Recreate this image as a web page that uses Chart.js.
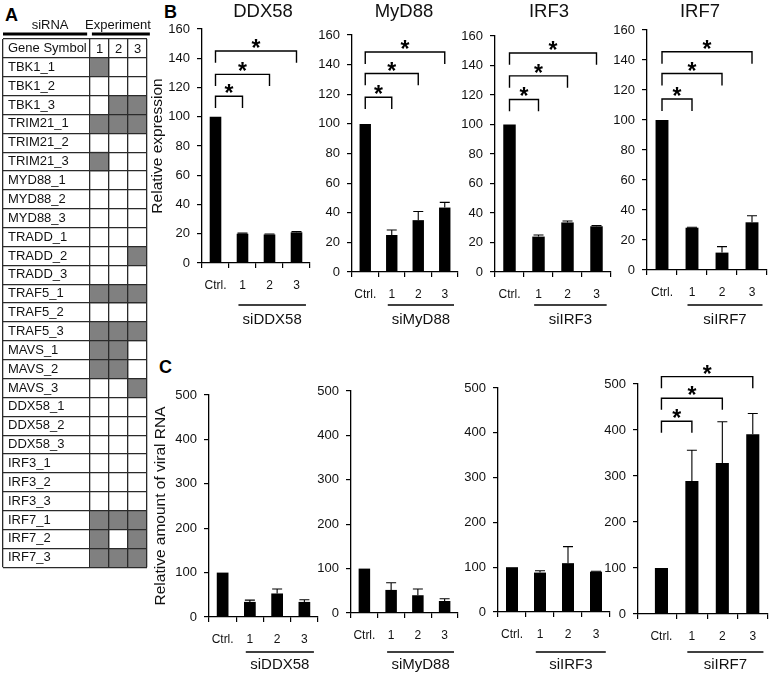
<!DOCTYPE html>
<html>
<head>
<meta charset="utf-8">
<script src="https://cdn.jsdelivr.net/npm/chart.js@4.4.1/dist/chart.umd.min.js"></script>
<style>
  html, body { margin: 0; padding: 0; background: #fff; }
  #fig { position: relative; width: 778px; height: 676px; overflow: hidden; font-family: 'Liberation Sans', Arial, sans-serif; }
  .letter { position: absolute; font-weight: bold; font-size: 18px; line-height: 1; color: #000; }
</style>
</head>
<body>
<div id="fig">
  <div class="letter" style="left:5px;top:6px">A</div>
  <div class="letter" style="left:164px;top:3px">B</div>
  <div class="letter" style="left:159px;top:358px">C</div>
</div>
<script>
// ---- data: panel A (siRNA table) ----
const genes = ['TBK1_1','TBK1_2','TBK1_3','TRIM21_1','TRIM21_2','TRIM21_3','MYD88_1','MYD88_2','MYD88_3',
  'TRADD_1','TRADD_2','TRADD_3','TRAF5_1','TRAF5_2','TRAF5_3','MAVS_1','MAVS_2','MAVS_3',
  'DDX58_1','DDX58_2','DDX58_3','IRF3_1','IRF3_2','IRF3_3','IRF7_1','IRF7_2','IRF7_3'];
const exp1 = [1,0,0,1,0,1,0,0,0,0,0,0,1,0,1,1,1,0,0,0,0,0,0,0,1,1,1];
const exp2 = [0,0,1,1,0,0,0,0,0,0,0,0,1,0,1,1,1,0,0,0,0,0,0,0,1,0,1];
const exp3 = [0,0,1,1,0,0,0,0,0,0,1,0,1,0,1,0,0,1,0,0,0,0,0,0,1,1,1];
const expLabels = ['1', '2', '3'];
const headLabels = ['siRNA', 'Experiment'];

// ---- data: panels B and C ----
const groups = ['Ctrl.', '1', '2', '3'];

const exprDDX58 = [100, 20, 19.5, 21];
const exprDDX58Err = [0, 0.4, 0.3, 0.5];
const exprMyD88 = [100, 25, 35, 43.5];
const exprMyD88Err = [0, 3.4, 5.8, 3.5];
const exprIRF3 = [100, 24, 33.6, 31];
const exprIRF3Err = [0, 1.1, 1, 0.5];
const exprIRF7 = [100, 28.2, 11.6, 31.8];
const exprIRF7Err = [0, 0.3, 4, 4.4];

const viralDDX58 = [100, 34, 53, 34];
const viralDDX58Err = [0, 4, 10, 5];
const viralMyD88 = [100, 52, 40, 27];
const viralMyD88Err = [0, 16, 14, 5];
const viralIRF3 = [100, 88, 109, 90];
const viralIRF3Err = [0, 4, 37, 1];
const viralIRF7 = [100, 289, 328, 391];
const viralIRF7Err = [0, 67, 90, 45];

// significance bracket heights (Ctrl vs 1, 2, 3)
const sigExprDDX58 = [114, 129, 145];
const sigExprMyD88 = [118, 134, 148.5];
const sigExprIRF3 = [117, 133, 148.5];
const sigExprIRF7 = [114, 131, 145.5];
const sigViralIRF7 = [419, 469, 516];

const FONT = "'Liberation Sans', Arial, sans-serif";
Chart.defaults.font.family = FONT;
Chart.defaults.color = '#111';

const fig = document.getElementById('fig');

function addCanvas(l, t, w, h) {
  const c = document.createElement('canvas');
  c.width = w; c.height = h;
  c.style.cssText = `position:absolute;left:${l}px;top:${t}px;`;
  fig.appendChild(c);
  return c;
}

// ---- panel A ----
(function(){
  const cW = 156, cH = 580;
  const GENE_MIN = -87 / 19;
  const canvas = addCanvas(0, 0, cW, cH);
  const cols = [exp1, exp2, exp3];

  // header text + thick rules above the table, "1 2 3" in the first row
  const header = {
    id: 'header',
    afterDraw(chart) {
      const {ctx, chartArea, scales: {x, y}} = chart;
      const ly = chartArea.top - 5;
      ctx.save();
      ctx.strokeStyle = '#000';
      ctx.lineWidth = 3;
      ctx.beginPath();
      ctx.moveTo(x.getPixelForValue(GENE_MIN), ly);
      ctx.lineTo(x.getPixelForValue(-0.15), ly);
      ctx.moveTo(x.getPixelForValue(0.1), ly);
      ctx.lineTo(x.getPixelForValue(3.15), ly);
      ctx.stroke();
      ctx.fillStyle = '#111';
      ctx.textAlign = 'center';
      ctx.textBaseline = 'middle';
      ctx.font = '13px ' + FONT;
      ctx.fillText(headLabels[0], x.getPixelForValue(-2.1), chartArea.top - 14);
      ctx.fillText(headLabels[1], x.getPixelForValue(1.47), chartArea.top - 14);
      ctx.font = '13px ' + FONT;
      expLabels.forEach((t, i) => ctx.fillText(t, x.getPixelForValue(i + 0.5), y.getPixelForValue(0) + 1));
      ctx.restore();
    }
  };

  new Chart(canvas, {
    type: 'bar',
    data: {
      labels: ['Gene Symbol'].concat(genes),
      datasets: cols.map((col, c) => ({
        data: [null].concat(col.map(f => f ? [c, c + 1] : null)),
        backgroundColor: '#808080',
        borderWidth: 0,
        grouped: false,
        barPercentage: 1,
        categoryPercentage: 1
      }))
    },
    options: {
      indexAxis: 'y',
      responsive: false,
      animation: false,
      layout: { padding: { left: 3, right: cW - 147, top: 39, bottom: cH - 569 } },
      plugins: { legend: { display: false }, tooltip: { enabled: false } },
      scales: {
        y: {
          type: 'category',
          afterFit: s => { s.width = 0; },
          grid: { offset: true, color: '#2a2a2a', lineWidth: 1.3, drawTicks: false, z: 1 },
          border: { display: false },
          ticks: { mirror: true, padding: 5, autoSkip: false, font: { size: 13 }, color: '#111' }
        },
        x: {
          type: 'linear', position: 'top', min: GENE_MIN, max: 3,
          afterBuildTicks: s => { s.ticks = [GENE_MIN, 0, 1, 2, 3].map(v => ({ value: v })); },
          afterFit: s => { s.height = 0; },
          grid: { drawTicks: false, lineWidth: 1.3, color: '#2a2a2a', z: 1 },
          border: { display: false },
          ticks: { display: false }
        }
      }
    },
    plugins: [header]
  });
})();

// ---- panels B and C ----
function marks(cfg) {
  return {
    id: 'marks',
    afterDraw(chart) {
      const {ctx, chartArea, scales: {x, y}} = chart;
      ctx.save();
      ctx.strokeStyle = '#000';
      ctx.fillStyle = '#000';

      // error bars (upper half only)
      ctx.lineWidth = 1.1;
      cfg.values.forEach((v, i) => {
        const e = cfg.errors[i];
        if (!e) return;
        const px = x.getPixelForValue(i);
        const y0 = y.getPixelForValue(v), y1 = y.getPixelForValue(v + e);
        ctx.beginPath();
        ctx.moveTo(px, y0); ctx.lineTo(px, y1);
        ctx.moveTo(px - 5, y1); ctx.lineTo(px + 5, y1);
        ctx.stroke();
      });

      // significance brackets
      ctx.lineWidth = 1.4;
      ctx.font = 'bold 23px ' + FONT;
      ctx.textAlign = 'center';
      ctx.textBaseline = 'alphabetic';
      (cfg.sig || []).forEach((lvl, k) => {
        const xa = x.getPixelForValue(0), xb = x.getPixelForValue(k + 1);
        const yt = y.getPixelForValue(lvl), yl = y.getPixelForValue(lvl - cfg.drop);
        ctx.beginPath();
        ctx.moveTo(xa, yl); ctx.lineTo(xa, yt); ctx.lineTo(xb, yt); ctx.lineTo(xb, yl);
        ctx.stroke();
        ctx.fillText('*', (xa + xb) / 2, yt + 5);
      });

      // siRNA group underline + name
      const g0 = x.getPixelForValue(0.85), g1 = x.getPixelForValue(3.35);
      ctx.lineWidth = 1.3;
      ctx.beginPath();
      ctx.moveTo(g0, cfg.lineY); ctx.lineTo(g1, cfg.lineY);
      ctx.stroke();
      ctx.fillStyle = '#111';
      ctx.font = '15px ' + FONT;
      ctx.textBaseline = 'middle';
      ctx.fillText(cfg.group, (g0 + g1) / 2, cfg.textY);

      if (cfg.title) {
        ctx.font = '18.5px ' + FONT;
        ctx.fillText(cfg.title, (chartArea.left + chartArea.right) / 2 + cfg.titleShift, cfg.titleY);
      }
      ctx.restore();
    }
  };
}

function makeBarChart(cfg) {
  const XH = 40;
  const canvas = addCanvas(cfg.cL, cfg.cT, cfg.cW, cfg.cH);
  const xMin = cfg.xMin ?? -0.5;
  const tickVals = [xMin, 0, 0.5, 1, 1.5, 2, 2.5, 3, 3.5];
  const isCat = v => Number.isInteger(v) && v >= 0;
  const markColor = c => (c.tick && isCat(c.tick.value)) ? 'rgba(0,0,0,0)' : '#000';

  new Chart(canvas, {
    type: 'bar',
    data: {
      datasets: [{
        data: cfg.values.map((v, i) => ({ x: i, y: v })),
        backgroundColor: '#000',
        borderWidth: 0,
        barPercentage: 0.86,
        categoryPercentage: 1
      }]
    },
    options: {
      responsive: false,
      animation: false,
      layout: {
        padding: {
          left: cfg.L - cfg.cL - cfg.yW,
          right: cfg.cL + cfg.cW - cfg.R,
          top: cfg.T - cfg.cT,
          bottom: cfg.cT + cfg.cH - cfg.B - XH
        }
      },
      plugins: { legend: { display: false }, tooltip: { enabled: false } },
      scales: {
        x: {
          type: 'linear', min: xMin, max: 3.5, offset: false,
          afterBuildTicks: s => { s.ticks = tickVals.map(v => ({ value: v })); },
          afterFit: s => { s.height = XH; },
          grid: { offset: false, drawOnChartArea: false, drawTicks: true, tickLength: 5, lineWidth: 1.2, color: markColor, tickColor: markColor },
          border: { display: true, color: '#000', width: 1.3 },
          ticks: {
            autoSkip: false, maxRotation: 0, minRotation: 0, padding: 10, font: { size: 12 }, color: '#111',
            callback: v => isCat(v) ? groups[v] : ''
          }
        },
        y: {
          min: 0, max: cfg.yMax,
          afterFit: s => { s.width = cfg.yW; },
          grid: { drawOnChartArea: false, tickLength: 5, color: '#000', lineWidth: 1.2 },
          border: { display: true, color: '#000', width: 1.3 },
          ticks: { stepSize: cfg.yStep, padding: 7, font: { size: 13 }, color: '#111' },
          title: cfg.yTitle
            ? { display: true, text: cfg.yTitle, font: { size: 15.5 }, color: '#111', padding: { top: cfg.yTitlePad, bottom: 0 } }
            : { display: false }
        }
      }
    },
    plugins: [marks(cfg)]
  });
}

// B: relative expression
const bBase = { cT: 0, cH: 335, yMax: 160, yStep: 20, drop: 8, lineY: 305, textY: 320, titleY: 12 };
makeBarChart(Object.assign({}, bBase, { cL: 140, cW: 180, L: 202, R: 314, T: 29, B: 263, yW: 62,
  yTitle: 'Relative expression', yTitlePad: 8.7,
  values: exprDDX58, errors: exprDDX58Err, sig: sigExprDDX58, title: 'DDX58', titleShift: 7, group: 'siDDX58' }));
makeBarChart(Object.assign({}, bBase, { cL: 307, cW: 161, L: 352, R: 462, T: 35, B: 272, yW: 45,
  values: exprMyD88, errors: exprMyD88Err, sig: sigExprMyD88, title: 'MyD88', titleShift: -1, group: 'siMyD88' }));
makeBarChart(Object.assign({}, bBase, { cL: 450, cW: 171, L: 495, R: 615, T: 36, B: 272, yW: 45,
  values: exprIRF3, errors: exprIRF3Err, sig: sigExprIRF3, title: 'IRF3', titleShift: -4, group: 'siIRF3' }));
makeBarChart(Object.assign({}, bBase, { cL: 602, cW: 175, L: 647, R: 771, T: 30, B: 270, yW: 45,
  values: exprIRF7, errors: exprIRF7Err, sig: sigExprIRF7, title: 'IRF7', titleShift: -7, group: 'siIRF7' }));

// C: relative amount of viral RNA
const cBase = { cT: 340, cH: 336, yMax: 500, yStep: 100, drop: 25, lineY: 312, textY: 325 };
makeBarChart(Object.assign({}, cBase, { cL: 140, cW: 188, L: 209, R: 322, T: 395, B: 617, yW: 69,
  yTitle: 'Relative amount of viral RNA', yTitlePad: 11.7,
  values: viralDDX58, errors: viralDDX58Err, group: 'siDDX58' }));
makeBarChart(Object.assign({}, cBase, { cL: 306, cW: 162, L: 351, R: 462, T: 391, B: 613, yW: 45,
  values: viralMyD88, errors: viralMyD88Err, group: 'siMyD88' }));
makeBarChart(Object.assign({}, cBase, { cL: 453, cW: 167, L: 498, R: 614, T: 388, B: 612, yW: 45,
  values: viralIRF3, errors: viralIRF3Err, group: 'siIRF3' }));
makeBarChart(Object.assign({}, cBase, { cL: 593, cW: 185, L: 638, R: 772, T: 384, B: 614, yW: 45, xMin: -0.77,
  values: viralIRF7, errors: viralIRF7Err, sig: sigViralIRF7, group: 'siIRF7' }));
</script>
</body>
</html>
